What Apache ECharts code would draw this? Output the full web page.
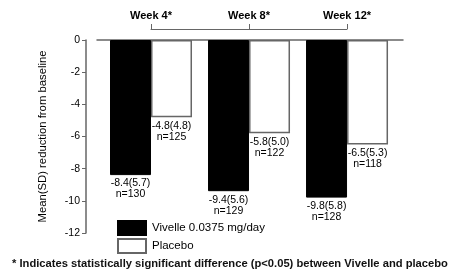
<!DOCTYPE html>
<html>
<head>
<meta charset="utf-8">
<script src="https://cdn.jsdelivr.net/npm/echarts@6/dist/echarts.min.js"></script>
<style>
  html, body { margin: 0; padding: 0; background: #fff; }
  #chart { width: 449px; height: 273px; }
</style>
</head>
<body>
<div id="chart"></div>
<script>
const weeks = ['Week 4*', 'Week 8*', 'Week 12*'];
const vivelleMean = [-8.4, -9.4, -9.8];
const vivelleSD = [5.7, 5.6, 5.8];
const vivelleN = [130, 129, 128];
const placeboMean = [-4.8, -5.8, -6.5];
const placeboSD = [4.8, 5.0, 5.3];
const placeboN = [125, 122, 118];
const yTicks = { min: -12, max: 0, step: 2 };

const font = '"Liberation Sans", Arial, sans-serif';

const makeData = (means, sds, ns) => means.map((v, i) => ({
  value: [i, v],
  sd: sds[i],
  n: ns[i]
}));

const barLabel = {
  show: true,
  position: 'bottom',
  distance: 3,
  fontFamily: font,
  fontSize: 10.5,
  lineHeight: 11,
  color: '#000',
  formatter: p => `${p.data.value[1].toFixed(1)}(${p.data.sd.toFixed(1)})\nn=${p.data.n}`
};

const getOptions = () => ({
  animation: false,
  textStyle: { fontFamily: font },
  title: {
    text: '* Indicates statistically significant difference (p<0.05) between Vivelle and placebo',
    left: 12,
    top: 258,
    padding: 0,
    textStyle: { fontFamily: font, fontSize: 11.2, fontWeight: 'bold', color: '#111' }
  },
  legend: {
    orient: 'vertical',
    left: 117,
    top: 220,
    padding: 0,
    itemWidth: 28,
    itemHeight: 14,
    itemGap: 2,
    icon: 'rect',
    textStyle: { fontFamily: font, fontSize: 11.5, color: '#000', padding: [0, 0, 0, 1] },
    data: ['Vivelle 0.0375 mg/day', 'Placebo']
  },
  grid: [
    { left: 97, right: 46, top: 40, bottom: 40 },
    { left: 151, right: 102, top: 29, height: 0 }
  ],
  xAxis: [
    {
      type: 'value',
      gridIndex: 0,
      min: -0.551,
      max: 2.571,
      position: 'top',
      axisLine: { show: true, onZero: false, lineStyle: { color: '#666', width: 1.5 } },
      axisTick: { show: false },
      axisLabel: { show: false },
      splitLine: { show: false }
    },
    {
      type: 'value',
      gridIndex: 1,
      min: 0,
      max: weeks.length - 1,
      interval: 1,
      position: 'top',
      axisLine: { show: true, lineStyle: { color: '#666', width: 1 } },
      axisTick: { show: true, length: 5, lineStyle: { color: '#666', width: 1 } },
      axisLabel: {
        margin: 8,
        fontFamily: font,
        fontSize: 11,
        fontWeight: 'bold',
        color: '#000',
        formatter: v => weeks[v] || ''
      },
      splitLine: { show: false }
    }
  ],
  yAxis: [
    {
      type: 'value',
      gridIndex: 0,
      min: yTicks.min,
      max: yTicks.max,
      interval: yTicks.step,
      offset: 11,
      name: 'Mean(SD) reduction from baseline',
      nameLocation: 'middle',
      nameGap: 38,
      nameTextStyle: { fontFamily: font, fontSize: 11.3, color: '#000' },
      axisLine: { show: true, onZero: false, lineStyle: { color: '#666', width: 1.5 } },
      axisTick: { show: true, length: 4, lineStyle: { color: '#666' } },
      axisLabel: { fontFamily: font, fontSize: 10.5, color: '#000', margin: 6 },
      splitLine: { show: false }
    },
    {
      type: 'value',
      gridIndex: 1,
      show: false
    }
  ],
  series: [
    {
      name: 'Vivelle 0.0375 mg/day',
      type: 'bar',
      xAxisIndex: 0,
      yAxisIndex: 0,
      barWidth: 41,
      barGap: 0,
      itemStyle: { color: '#000', borderColor: '#000', borderWidth: 1 },
      label: barLabel,
      data: makeData(vivelleMean, vivelleSD, vivelleN)
    },
    {
      name: 'Placebo',
      type: 'bar',
      xAxisIndex: 0,
      yAxisIndex: 0,
      barWidth: 41,
      barGap: 0,
      itemStyle: { color: '#fff', borderColor: '#666', borderWidth: 1.5 },
      label: barLabel,
      data: makeData(placeboMean, placeboSD, placeboN)
    }
  ]
});

const chart = echarts.init(document.getElementById('chart'), null, { renderer: 'canvas' });
chart.setOption(getOptions());
</script>
</body>
</html>
